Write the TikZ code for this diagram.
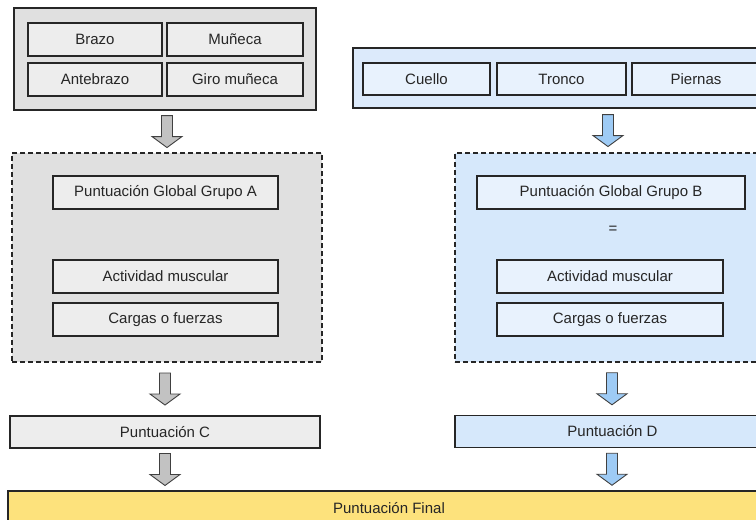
\documentclass[tikz,border=0pt]{standalone}
\usepackage{fontspec}
\setmainfont{Liberation Sans}
\usetikzlibrary{calc,positioning}

\definecolor{graybg}{HTML}{E0E0E0}
\definecolor{grayin}{HTML}{EDEDED}
\definecolor{grayarr}{HTML}{C2C2C2}
\definecolor{bluebg}{HTML}{DCEAFB}
\definecolor{bluein}{HTML}{E8F2FD}
\definecolor{bluedash}{HTML}{D6E8FB}
\definecolor{bluearr}{HTML}{9ECBF5}
\definecolor{finalbg}{HTML}{FDE27C}
\definecolor{inkgray}{HTML}{262626}

% fat arrow between two nodes: style, x, upper anchor, lower anchor
\newcommand{\blockarrow}[4]{%
  \coordinate (ba-x) at (#2,0);
  \coordinate (ba-p) at (ba-x |- #3);
  \coordinate (ba-q) at (ba-x |- #4);
  \coordinate (ba-m) at ($(ba-p)!0.5!(ba-q)$);
  \draw[#1] ($(ba-m)+(-5.5,-16)$) -- ($(ba-m)+(-5.5,5)$) -- ($(ba-m)+(-15,5)$)
    -- ($(ba-m)+(0,16)$) -- ($(ba-m)+(15,5)$) -- ($(ba-m)+(5.5,5)$)
    -- ($(ba-m)+(5.5,-16)$) -- cycle;
}

\begin{document}
\begin{tikzpicture}[x=1pt,y=-1pt,font=\fontsize{15}{17}\selectfont,text=inkgray,
  box/.style={draw=black!85,line width=1.1pt,inner sep=0pt,minimum height=33pt},
  grayitem/.style={box,fill=grayin,minimum width=#1},
  blueitem/.style={box,fill=bluein,minimum width=#1},
  frame/.style={draw=black!85,line width=1.4pt,inner sep=0pt},
  group/.style={draw=black!85,line width=1.2pt,dash pattern=on 5pt off 3pt,inner sep=0pt},
  grayarrow/.style={draw=black!75,line width=0.9pt,fill=grayarr},
  bluearrow/.style={draw=black!75,line width=0.9pt,fill=bluearr}]
  \useasboundingbox (0,0) rectangle (756,520);

  % upper limb
  \node[frame,fill=graybg,minimum width=302pt,minimum height=102pt] (limbs) at (165,59) {};
  \node[grayitem=134pt] (brazo) at (95,39.5) {Brazo};
  \node[grayitem=136pt] (muneca) at (235,39.5) {Muñeca};
  \node[grayitem=134pt] (antebrazo) at (95,79.5) {Antebrazo};
  \node[grayitem=136pt] (giro) at (235,79.5) {Giro muñeca};

  % neck, trunk, legs
  \node[frame,fill=bluebg,minimum width=417pt,minimum height=60pt] (trunk) at (561.5,78) {};
  \node[blueitem=127pt,minimum height=32pt] (cuello) at (426.5,79) {Cuello};
  \node[blueitem=129pt,minimum height=32pt] (tronco) at (561.5,79) {Tronco};
  \node[blueitem=128pt,minimum height=32pt] (piernas) at (696,79) {Piernas};

  % group A
  \node[group,fill=graybg,minimum width=310pt,minimum height=209pt] (grpA) at (167,257.5) {};
  \node[grayitem=225pt] (globA) at (165.5,192.5) {Puntuación Global Grupo A};
  \node[grayitem=225pt] (actA) at (165.5,276.5) {Actividad muscular};
  \node[grayitem=225pt] (cargA) at (165.5,319.5) {Cargas o fuerzas};

  % group B
  \node[group,fill=bluedash,minimum width=315pt,minimum height=209pt] (grpB) at (612.5,257.5) {};
  \node[blueitem=268pt] (globB) at (611,192.5) {Puntuación Global Grupo B};
  \node (eqB) at (613,230) {=};
  \node[blueitem=226pt] (actB) at (610,276.5) {Actividad muscular};
  \node[blueitem=226pt] (cargB) at (610,319.5) {Cargas o fuerzas};

  % scores
  \node[box,fill=grayin,minimum width=310pt,minimum height=32pt] (puntC) at (165,432) {Puntuación C};
  \node[box,fill=bluedash,minimum width=315pt,minimum height=32pt] (puntD) at (612.5,431.5) {Puntuación D};
  \node[box,fill=finalbg,minimum width=762pt,minimum height=40pt] (final) at (389,511) {};
  \node (finaltxt) at (389,508) {Puntuación Final};

  \blockarrow{grayarrow}{167}{limbs.south}{grpA.north}
  \blockarrow{grayarrow}{165}{grpA.south}{puntC.north}
  \blockarrow{grayarrow}{165}{puntC.south}{final.north}
  \blockarrow{bluearrow}{608}{trunk.south}{grpB.north}
  \blockarrow{bluearrow}{612}{grpB.south}{puntD.north}
  \blockarrow{bluearrow}{612}{puntD.south}{final.north}
\end{tikzpicture}
\end{document}
